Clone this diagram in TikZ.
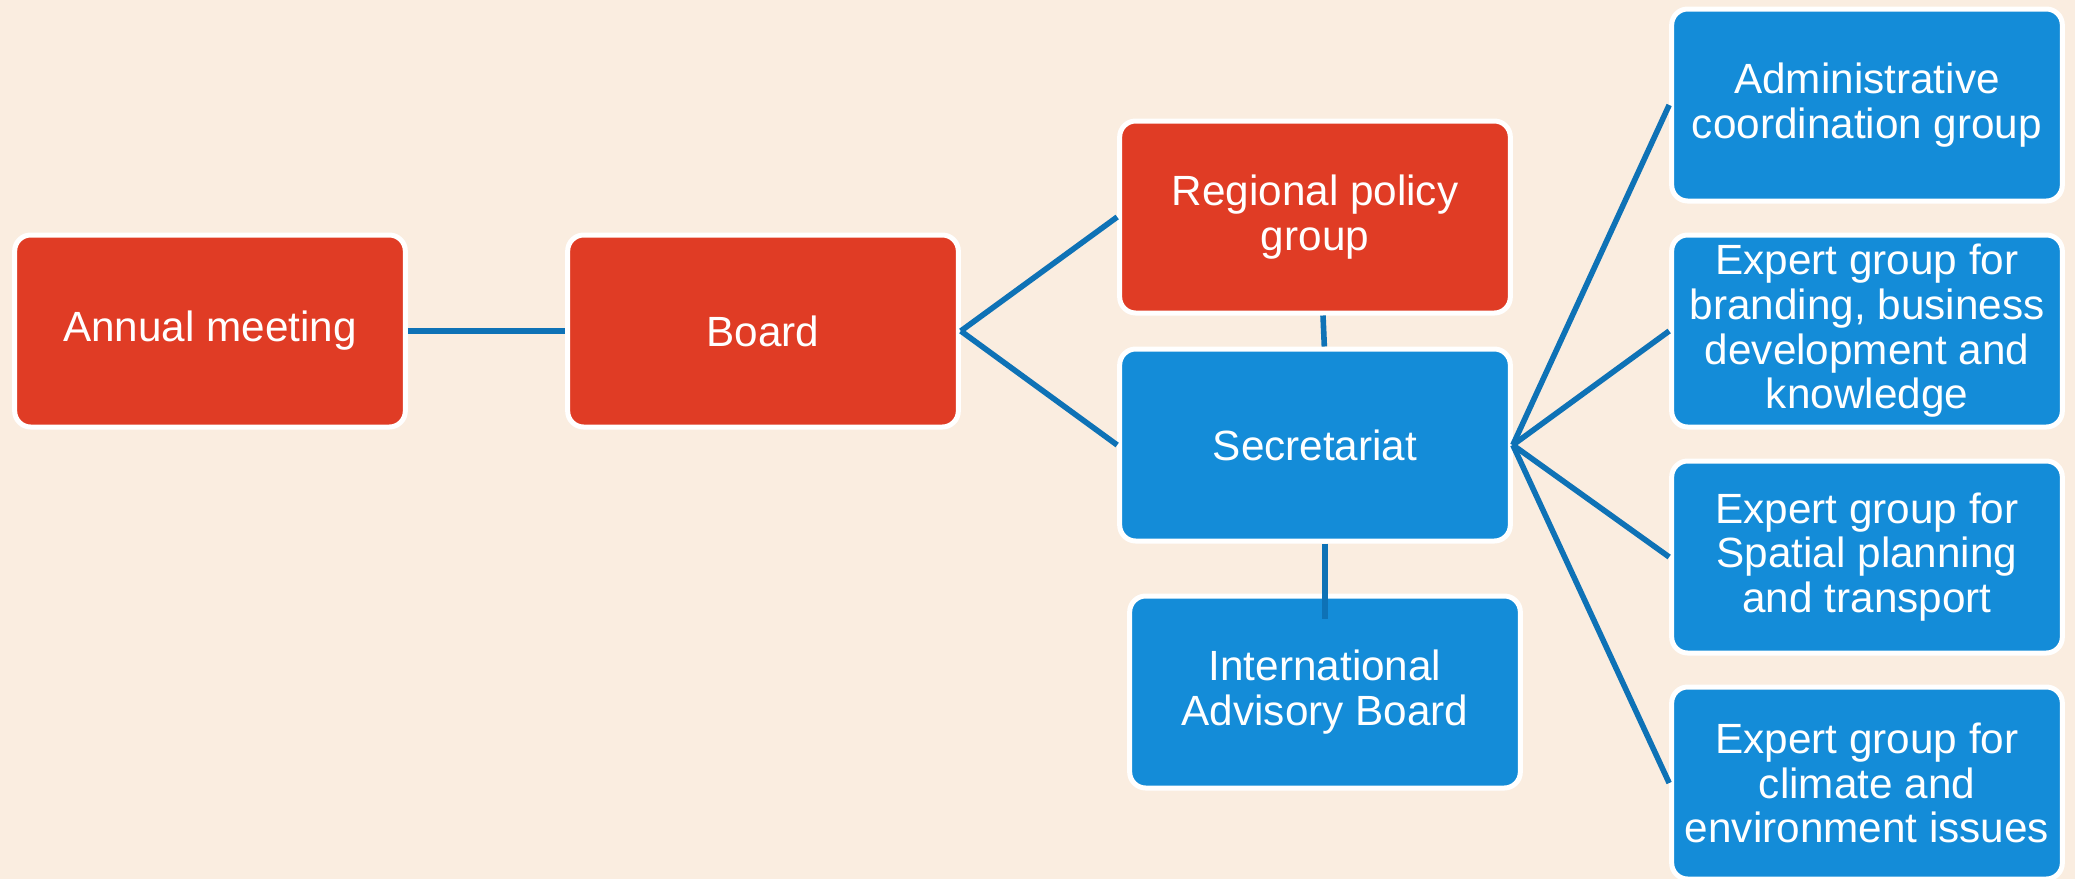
\documentclass[tikz,border=0pt]{standalone}
\usepackage{fontspec}
\setmainfont{Liberation Sans}
\definecolor{bg}{HTML}{FAEDE0}
\definecolor{boxred}{HTML}{E03C25}
\definecolor{boxblue}{HTML}{148CD8}
\definecolor{linkblue}{HTML}{0E72B6}
\begin{document}
\begin{tikzpicture}[x=0.75pt,y=-0.75pt,
  box/.style={draw=white, line width=3.75pt, rounded corners=12pt, minimum width=293pt, minimum height=144pt, align=center, text=white, font=\fontsize{31.7}{33.5}\selectfont, inner sep=0pt},
  redbox/.style={box, fill=boxred},
  bluebox/.style={box, fill=boxblue},
  link/.style={draw=linkblue, line width=4.2pt}]
\fill[bg] (0,0) rectangle (2075,879);
\useasboundingbox (0,0) rectangle (2075,879);
\node[redbox] (annual) at (210,331) {Annual meeting};
\node[redbox] (board) at (763,331) {Board};
\node[redbox] (reg) at (1315,217) {Regional policy\\group};
\node[bluebox] (sec) at (1315,445) {Secretariat};
\node[bluebox] (iab) at (1325,692) {International\\Advisory Board};
\node[bluebox] (adm) at (1867,105) {Administrative\\coordination group};
\node[bluebox] (brand) at (1867,331) {Expert group for\\branding, business\\development and\\knowledge};
\node[bluebox] (spat) at (1867,557) {Expert group for\\Spatial planning\\and transport};
\node[bluebox] (clim) at (1867,783) {Expert group for\\climate and\\environment issues};
\draw[link] (annual.east) -- (board.east -| board.west);
\draw[link] (board.east) -- (reg.west);
\draw[link] (board.east) -- (sec.west);
\draw[link] ([xshift=6pt]reg.south) -- ([xshift=7pt]sec.north);
\coordinate (iabin) at ([yshift=-19pt]iab.north);
\draw[link] (sec.south -| iab.north) -- (iabin);
\draw[link] (sec.east) -- (adm.west);
\draw[link] (sec.east) -- (brand.west);
\draw[link] (sec.east) -- (spat.west);
\draw[link] (sec.east) -- (clim.west);
\end{tikzpicture}
\end{document}
